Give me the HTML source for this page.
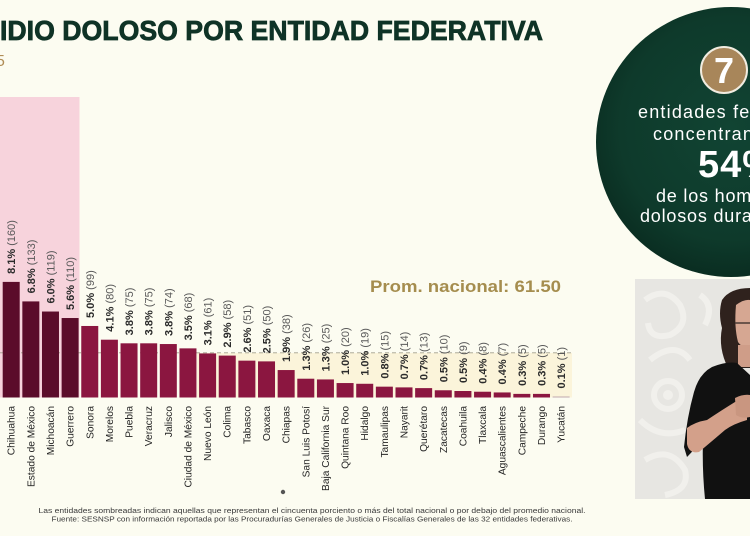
<!DOCTYPE html>
<html>
<head>
<meta charset="utf-8">
<style>
  html,body{margin:0;padding:0;background:#fcfcf1;}
  svg{display:block;}
  text{font-family:"Liberation Sans", sans-serif;}
</style>
</head>
<body>
<svg width="750" height="536" viewBox="0 0 750 536" xmlns="http://www.w3.org/2000/svg">
  <defs>
    <radialGradient id="gc" cx="50%" cy="45%" r="55%">
      <stop offset="0%" stop-color="#114433"/>
      <stop offset="75%" stop-color="#0e3a2b"/>
      <stop offset="100%" stop-color="#0a2d21"/>
    </radialGradient>
    <clipPath id="vclip"><rect x="635" y="279" width="115" height="220"/></clipPath>
  </defs>
  <rect x="0" y="0" width="750" height="536" fill="#fcfcf1"/>

  <!-- Title -->
  <text x="0" y="40" font-size="28" font-weight="bold" fill="#0f3326" stroke="#0f3326" stroke-width="0.8" textLength="543" lengthAdjust="spacingAndGlyphs">IDIO DOLOSO POR ENTIDAD FEDERATIVA</text>
  <text x="-4" y="66" font-size="16" fill="#b08d57">5</text>

  <!-- Shadings -->
  <rect x="0" y="97" width="79.5" height="300.5" fill="#f7d3dc"/>
  <rect x="197" y="353" width="375" height="44.5" fill="#fbf4da"/>
  <line x1="0" y1="352.8" x2="572" y2="352.8" stroke="#a39f8c" stroke-width="0.9" stroke-dasharray="4 3"/>

  <!-- Prom nacional -->
  <text x="370" y="292" font-size="16.5" font-weight="bold" fill="#a58d4e" textLength="191" lengthAdjust="spacingAndGlyphs">Prom. nacional: 61.50</text>

  <g id="bars"></g>

  <!-- Footer -->
  <text x="312" y="513" font-size="7.6" fill="#3a3a3a" text-anchor="middle" textLength="547" lengthAdjust="spacingAndGlyphs">Las entidades sombreadas indican aquellas que representan el cincuenta porciento o más del total nacional o por debajo del promedio nacional.</text>
  <text x="312" y="521.5" font-size="7.6" fill="#3a3a3a" text-anchor="middle" textLength="521" lengthAdjust="spacingAndGlyphs">Fuente: SESNSP con información reportada por las Procuradurías Generales de Justicia o Fiscalías Generales de las 32 entidades federativas.</text>
  <circle cx="283" cy="492" r="2.2" fill="#555"/>

  <!-- Green circle -->
  <circle cx="731" cy="142" r="135" fill="url(#gc)"/>
  <circle cx="724" cy="70" r="23" fill="#a8865a" stroke="#f1ece0" stroke-width="2"/>
  <text x="724" y="83" font-size="36" font-weight="bold" fill="#ffffff" text-anchor="middle">7</text>
  <text x="638" y="118" font-size="18" fill="#ffffff" letter-spacing="1.2">entidades federativas</text>
  <text x="653" y="140" font-size="18" fill="#ffffff" letter-spacing="1.2">concentran</text>
  <text x="698" y="177" font-size="38" font-weight="bold" fill="#ffffff" letter-spacing="1">54%</text>
  <text x="656" y="202" font-size="18" fill="#ffffff" letter-spacing="0.8">de los homicidios</text>
  <text x="640" y="222" font-size="18" fill="#ffffff" letter-spacing="0.8">dolosos durante</text>

  <!-- Video inset -->
  <g clip-path="url(#vclip)">
    <rect x="635" y="279" width="115" height="220" fill="#e7e6e2"/>
    <g fill="none" stroke="#f1f0ec" stroke-width="6">
      <path d="M645 300 q20 -15 35 5 q10 20 -10 30 q-20 5 -22 -12"/>
      <path d="M650 360 q25 -20 40 0"/>
      <circle cx="668" cy="395" r="14"/>
      <path d="M640 420 q20 20 45 10"/>
      <path d="M645 460 q25 -15 40 10 q5 20 -20 25"/>
      <path d="M700 295 q15 10 5 30"/>
    </g>
    <circle cx="668" cy="395" r="5" fill="#f1f0ec"/>
    <!-- hair -->
    <path d="M722 300 q8 -12 28 -12 v80 h-22 q-10 -20 -6 -40 q-4 -15 0 -28z" fill="#2f221d"/>
    <!-- face -->
    <path d="M736 305 q8 -6 14 -5 v48 q-8 0 -12 -6 q-4 -15 -2 -37z" fill="#d6a792"/>
    <path d="M735 323 h15" stroke="#4a3a34" stroke-width="1.5"/>
    <!-- neck -->
    <rect x="738" y="345" width="12" height="22" fill="#cf9d88"/>
    <!-- shirt -->
    <path d="M712 367 q15 -6 25 -4 l13 12 v124 h-45 q-3 -30 -2 -60 q-10 12 -16 18 l-3 -10 q3 -30 10 -55 q5 -18 18 -25z" fill="#111111"/>
    <!-- arm -->
    <path d="M687 428 q8 -6 20 -8 q15 -10 28 -18 l12 -2 v20 q-14 4 -22 10 q-14 12 -26 22 q-10 2 -12 -8 z" fill="#d3a08a"/>
    <path d="M735 398 q8 -4 15 -3 v22 q-8 2 -14 -2z" fill="#c99680"/>
  </g>
</svg>
<script>
(function(){
  var data=[
    ["Chihuahua",160,"8.1%"],["Estado de México",133,"6.8%"],["Michoacán",119,"6.0%"],["Guerrero",110,"5.6%"],
    ["Sonora",99,"5.0%"],["Morelos",80,"4.1%"],["Puebla",75,"3.8%"],["Veracruz",75,"3.8%"],["Jalisco",74,"3.8%"],
    ["Ciudad de México",68,"3.5%"],["Nuevo León",61,"3.1%"],["Colima",58,"2.9%"],["Tabasco",51,"2.6%"],
    ["Oaxaca",50,"2.5%"],["Chiapas",38,"1.9%"],["San Luis Potosí",26,"1.3%"],["Baja California Sur",25,"1.3%"],
    ["Quintana Roo",20,"1.0%"],["Hidalgo",19,"1.0%"],["Tamaulipas",15,"0.8%"],["Nayarit",14,"0.7%"],
    ["Querétaro",13,"0.7%"],["Zacatecas",10,"0.5%"],["Coahuila",9,"0.5%"],["Tlaxcala",8,"0.4%"],
    ["Aguascalientes",7,"0.4%"],["Campeche",5,"0.3%"],["Durango",5,"0.3%"],["Yucatán",1,"0.1%"]
  ];
  var ns="http://www.w3.org/2000/svg";
  var g=document.getElementById("bars");
  var base=397.5, sc=0.7225, x0=2.7, pitch=19.64, w=17;
  data.forEach(function(d,i){
    var x=x0+pitch*i, h=Math.max(d[1]*sc,1), top=base-h, cx=x+w/2;
    var r=document.createElementNS(ns,"rect");
    r.setAttribute("x",x);r.setAttribute("y",top);r.setAttribute("width",w);r.setAttribute("height",h);
    r.setAttribute("fill", i<4?"#5b0c2a":(i==28?"#bfa9ad":"#8b1640"));
    g.appendChild(r);
    var t=document.createElementNS(ns,"text");
    t.setAttribute("transform","translate("+(cx+4)+","+(top-8)+") rotate(-90)");
    t.setAttribute("font-size","11");
    var s1=document.createElementNS(ns,"tspan");
    s1.setAttribute("font-weight","bold");s1.setAttribute("fill","#2b2b2b");s1.textContent=d[2]+" ";
    var s2=document.createElementNS(ns,"tspan");
    s2.setAttribute("fill","#5a5a5a");s2.textContent="("+d[1]+")";
    t.appendChild(s1);t.appendChild(s2);g.appendChild(t);
    var n=document.createElementNS(ns,"text");
    n.setAttribute("transform","translate("+(cx+3.5)+",406) rotate(-90)");
    n.setAttribute("font-size","10.2");n.setAttribute("fill","#252525");
    n.setAttribute("text-anchor","end");
    n.textContent=d[0];
    g.appendChild(n);
  });
})();
</script>
</body>
</html>
